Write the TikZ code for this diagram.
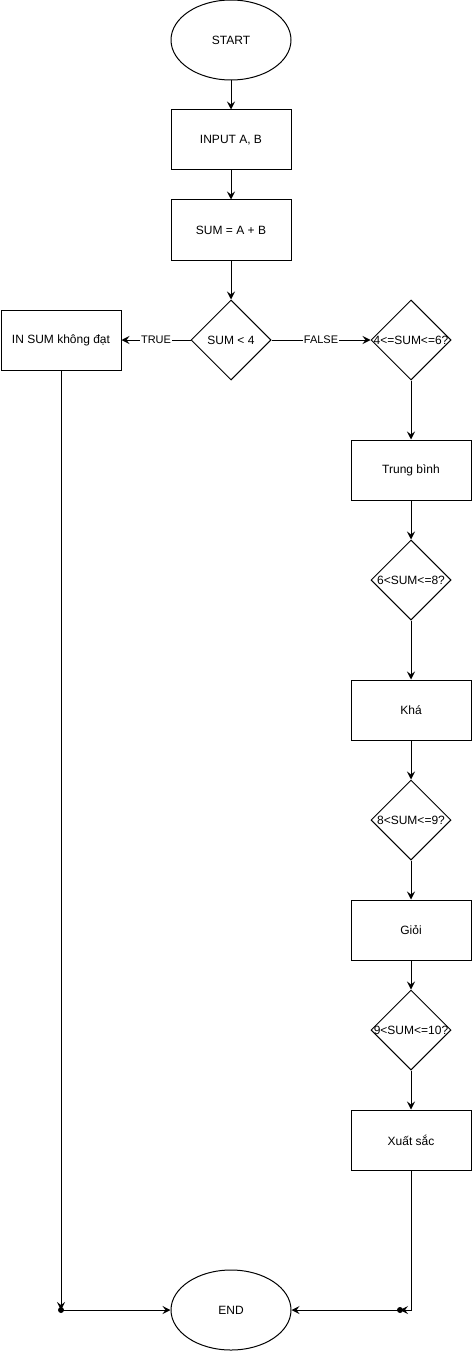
\documentclass[tikz,border=0pt]{standalone}
\usepackage{fontspec}
\setmainfont{Liberation Sans}
\usetikzlibrary{shapes.geometric,arrows.meta}
\begin{document}
\begin{tikzpicture}[x=1pt,y=-1pt,
  every node/.style={font=\fontsize{12}{14}\selectfont},
  box/.style={draw,line width=1pt,minimum width=120pt,minimum height=60pt,inner sep=0pt},
  oval/.style={draw,line width=1pt,ellipse,minimum width=120pt,minimum height=80pt,inner sep=0pt},
  dia/.style={draw,line width=1pt,diamond,minimum width=80pt,minimum height=80pt,inner sep=0pt},
  conn/.style={line width=1pt,-{Stealth[length=8pt,width=8pt,inset=3pt]}},
  elabel/.style={fill=white,inner sep=1pt,font=\fontsize{11}{13}\selectfont},
  dot/.style={circle,fill=black,inner sep=0pt,minimum size=6pt}]
\useasboundingbox (0,0) rectangle (471,1351);
\node[oval] (start) at (231,40) {START};
\node[box] (input) at (231,140) {INPUT A, B};
\node[box] (sum) at (231,230) {SUM = A + B};
\node[dia,label=center:{SUM < 4}] (d0) at (231,340) {};
\node[box] (insum) at (61,340) {IN SUM không đạt};
\node[dia,label=center:{4<=SUM<=6?}] (d1) at (411,340) {};
\node[box] (tb) at (411,470) {Trung bình};
\node[dia,label=center:{6<SUM<=8?}] (d2) at (411,580) {};
\node[box] (kha) at (411,710) {Khá};
\node[dia,label=center:{8<SUM<=9?}] (d3) at (411,820) {};
\node[box] (gioi) at (411,930) {Giỏi};
\node[dia,label=center:{9<SUM<=10?}] (d4) at (411,1030) {};
\node[box] (xs) at (411,1140) {Xuất sắc};
\node[oval] (end) at (231,1310) {END};
\coordinate (lc) at (61,1310);
\coordinate (rc) at (400,1310);
\draw[conn] (start) -- (input);
\draw[conn] (input) -- (sum);
\draw[conn] (sum) -- (d0);
\draw[conn] (d0) -- node[elabel]{TRUE} (insum);
\draw[conn] (d0) -- node[elabel]{FALSE} (d1);
\draw[conn] (d1) -- (tb);
\draw[conn] (tb) -- (d2);
\draw[conn] (d2) -- (kha);
\draw[conn] (kha) -- (d3);
\draw[conn] (d3) -- (gioi);
\draw[conn] (gioi) -- (d4);
\draw[conn] (d4) -- (xs);
\draw[conn] (insum.south) -- (lc);
\draw[conn] (xs.south) |- (rc);
\node[dot] (ld) at (lc) {};
\node[dot] (rd) at (rc) {};
\draw[conn] (ld.center) -- (end);
\draw[conn] (rd.center) -- (end);
\end{tikzpicture}
\end{document}
